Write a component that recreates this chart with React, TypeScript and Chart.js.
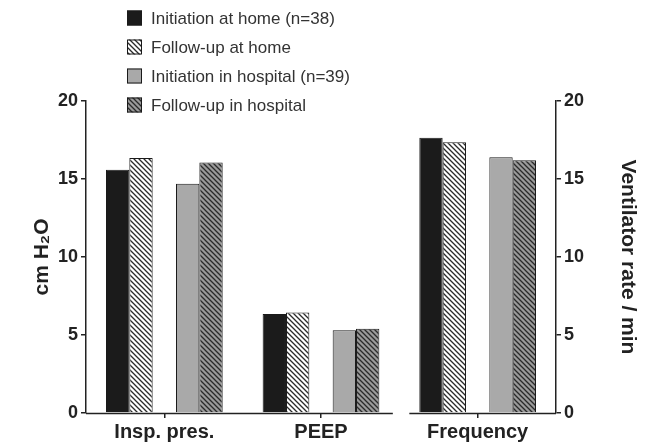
import React, { useEffect, useRef } from "react";
import { Chart, registerables } from "chart.js";

Chart.register(...registerables);

// ---- data ----
const categories = ["Insp. pres.", "PEEP", "Frequency"];
const seriesLabels = [
  "Initiation at home (n=38)",
  "Follow-up at home",
  "Initiation in hospital (n=39)",
  "Follow-up in hospital",
];
const initiationHome = [15.6, 6.35, 17.65];
const followUpHome = [16.35, 6.45, 17.35];
const initiationHospital = [14.7, 5.3, 16.4];
const followUpHospital = [16.05, 5.4, 16.2];
// index of the category that is read on the right axis (ventilator rate)
const rightAxisCategory = 2;
const yTicksMax = 20;
const yTicksStep = 5;

const FONT = "'Liberation Sans', Arial, Helvetica, sans-serif";

function makeHatch(bg: string, fg: string, size = 5, lw = 1.3) {
  const c = document.createElement("canvas");
  c.width = size;
  c.height = size;
  const ctx = c.getContext("2d")!;
  ctx.fillStyle = bg;
  ctx.fillRect(0, 0, size, size);
  ctx.strokeStyle = fg;
  ctx.lineWidth = lw;
  ctx.beginPath();
  ctx.moveTo(-1, -1);
  ctx.lineTo(size + 1, size + 1);
  ctx.moveTo(-1, size - 1);
  ctx.lineTo(1, size + 1);
  ctx.moveTo(size - 1, -1);
  ctx.lineTo(size + 1, 1);
  ctx.stroke();
  return ctx.createPattern(c, "repeat")!;
}

export default function App() {
  const ref = useRef<HTMLCanvasElement | null>(null);

  useEffect(() => {
    if (!ref.current) return;
    const fills: any[] = [
      "#1b1b1b",
      makeHatch("#ffffff", "#2a2a2a"),
      "#a9a9a9",
      makeHatch("#9a9a9a", "#2a2a2a"),
    ];
    const series = [initiationHome, followUpHome, initiationHospital, followUpHospital];
    const stacks = ["s1", "s2", "s3", "s4"];

    const datasets: any[] = [];
    series.forEach((arr, k) => {
      datasets.push({
        label: seriesLabels[k],
        data: arr.map((v, i) => (i === rightAxisCategory ? null : v)),
        yAxisID: "y",
        stack: stacks[k],
        backgroundColor: fills[k],
        borderColor: "#1a1a1a",
        borderWidth: 1,
      });
      if (k === 1) {
        // empty slot between home and hospital groups
        datasets.push({
          label: "_gap",
          data: categories.map(() => null),
          yAxisID: "y",
          stack: "gap",
          backgroundColor: "transparent",
          borderWidth: 0,
        });
      }
    });
    series.forEach((arr, k) => {
      datasets.push({
        label: seriesLabels[k] + " (rate)",
        data: arr.map((v, i) => (i === rightAxisCategory ? v : null)),
        yAxisID: "y2",
        stack: stacks[k],
        backgroundColor: fills[k],
        borderColor: "#1a1a1a",
        borderWidth: 1,
      });
    });

    const legendPlugin = {
      id: "customLegend",
      afterDraw(chart: any) {
        const ctx = chart.ctx;
        ctx.save();
        const x0 = 127;
        const y0 = 18;
        const dy = 29;
        const box = 15;
        ctx.font = `17px ${FONT}`;
        ctx.textBaseline = "middle";
        ctx.textAlign = "left";
        seriesLabels.forEach((lab, k) => {
          const y = y0 + dy * k;
          ctx.fillStyle = fills[k];
          ctx.fillRect(x0, y - box / 2, box, box);
          ctx.strokeStyle = "#1a1a1a";
          ctx.lineWidth = 1;
          ctx.strokeRect(x0 + 0.5, y - box / 2 + 0.5, box - 1, box - 1);
          ctx.fillStyle = "#333";
          ctx.fillText(lab, x0 + 24, y + 1);
        });
        ctx.restore();
      },
    };

    const brokenAxisPlugin = {
      id: "brokenAxis",
      afterDraw(chart: any) {
        const ctx = chart.ctx;
        const xs = chart.scales.x;
        const area = chart.chartArea;
        const brk = (xs.getPixelForValue(1) + xs.getPixelForValue(2)) / 2;
        ctx.save();
        ctx.strokeStyle = "#222";
        ctx.lineWidth = 1.5;
        ctx.beginPath();
        ctx.moveTo(area.left, area.bottom + 0.5);
        ctx.lineTo(brk - 6.5, area.bottom + 0.5);
        ctx.moveTo(brk + 10, area.bottom + 0.5);
        ctx.lineTo(area.right, area.bottom + 0.5);
        ctx.stroke();
        ctx.restore();
      },
    };

    const yCommon = (position: "left" | "right", title: string, w: number) => ({
      type: "linear",
      position,
      min: 0,
      max: yTicksMax,
      ticks: {
        stepSize: yTicksStep,
        color: "#222",
        font: { family: FONT, size: 18, weight: "bold" },
        padding: 3,
      },
      grid: {
        drawOnChartArea: false,
        drawTicks: true,
        tickLength: 5,
        color: "#222",
        lineWidth: 1.5,
      },
      border: { display: true, color: "#222", width: 1.5 },
      title: {
        display: true,
        text: title,
        color: "#222",
        font: { family: FONT, size: 21, weight: "bold" },
        padding: { top: 4, bottom: 4 },
      },
      afterFit(scale: any) {
        scale.width = w;
      },
    });

    const chart = new Chart(ref.current, {
      type: "bar",
      data: { labels: categories, datasets },
      options: {
        animation: false,
        responsive: false,
        devicePixelRatio: 1,
        layout: { padding: { left: 26, right: 14, top: 101, bottom: 0 } },
        datasets: {
          bar: { barPercentage: 1, categoryPercentage: 0.745 },
        },
        plugins: {
          legend: { display: false },
          tooltip: { enabled: false },
          title: { display: false },
        },
        scales: {
          x: {
            type: "category",
            ticks: {
              color: "#222",
              font: { family: FONT, size: 20, weight: "bold" },
              padding: 2,
              maxRotation: 0,
            },
            grid: {
              display: true,
              drawOnChartArea: false,
              offset: false,
              drawTicks: true,
              tickLength: 5,
              color: "#222",
              lineWidth: 1.5,
            },
            border: { display: false },
            afterFit(scale: any) {
              scale.height = 31;
            },
          },
          y: yCommon("left", "cm H₂O", 60) as any,
          y2: yCommon("right", "Ventilator rate / min", 88) as any,
        },
      } as any,
      plugins: [legendPlugin, brokenAxisPlugin],
    });
    return () => chart.destroy();
  }, []);

  return (
    <div
      style={{
        position: "fixed",
        left: 0,
        top: 0,
        width: 658,
        height: 444,
        background: "#fff",
      }}
    >
      <canvas ref={ref} width={658} height={444} style={{ display: "block" }} />
    </div>
  );
}
